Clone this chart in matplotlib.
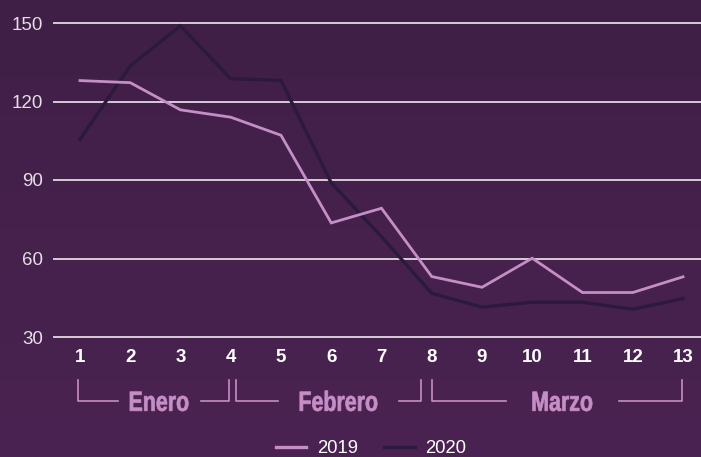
import matplotlib.pyplot as plt
import numpy as np
from matplotlib.colors import LinearSegmentedColormap
from matplotlib.textpath import TextPath
from matplotlib.patches import PathPatch
from matplotlib.font_manager import FontProperties
from matplotlib.transforms import Affine2D, IdentityTransform

weeks = list(range(1, 14))
v2019 = [128, 127.2, 116.8, 114, 107.1, 73.6, 79.2, 53.1, 49, 60.1, 47, 47, 53]
v2020 = [105.5, 133.6, 148.9, 128.7, 128.1, 88.9, 68.3, 46.7, 41.4, 43.3, 43.3, 40.6, 44.7]
yticks = [30, 60, 90, 120, 150]
months = ['Enero', 'Febrero', 'Marzo']
month_spans = [(0.97, 3.97), (4.10, 7.78), (8.0, 12.98)]
month_text = [(1.75, 3.4), (4.94, 7.35), (9.47, 11.73)]  # gap around label

pink = '#c58ec6'
dark = '#2b1a3c'
grid = '#d6ccd6'
DPI = 100

fig = plt.figure(figsize=(7.01, 4.57), dpi=DPI)

# gradient background
bg = fig.add_axes([0, 0, 1, 1], zorder=-10)
cmap = LinearSegmentedColormap.from_list('bg', ['#3f1f46', '#4b2352'])
bg.imshow(np.linspace(0, 1, 256).reshape(-1, 1), aspect='auto', cmap=cmap,
          extent=[0, 1, 0, 1])
bg.axis('off')

ax = fig.add_axes([54 / 701, 1 - 337 / 457, 647 / 701, 314 / 457])
ax.patch.set_alpha(0)
ax.set_xlim(0.483, 13.358)
ax.set_ylim(30, 150)

for y in yticks:
    ax.axhline(y, color=grid, lw=1.4, zorder=1, clip_on=False)

ax.plot(weeks, v2019, color=pink, lw=2.0, label='2019', zorder=3,
        solid_joinstyle='miter')
ax.plot(weeks, v2020, color=dark, lw=2.4, label='2020', zorder=2,
        solid_joinstyle='miter')

for s in ax.spines.values():
    s.set_visible(False)
ax.set_yticks(yticks)
ax.set_yticklabels([str(t) for t in yticks], color='#e6dde6', fontsize=13.5,
                   family='Liberation Sans')
ax.set_xticks(weeks)
ax.set_xticklabels([str(w) for w in weeks], color='white', fontsize=13.5,
                   fontweight='bold', family='Liberation Sans')
ax.tick_params(axis='y', length=0, pad=8)
ax.tick_params(axis='x', length=0, pad=9)

# month brackets
top_y, bot_y = -0.137, -0.2035
fp = FontProperties(family='Liberation Sans', weight='bold')
size_pt = 20
k = DPI / 72
for name, (a, b), (ga, gb) in zip(months, month_spans, month_text):
    kw = dict(transform=ax.get_xaxis_transform(), color=pink, lw=1.2,
              clip_on=False)
    ax.plot([a, a, ga], [top_y, bot_y, bot_y], **kw)
    ax.plot([gb, b, b], [bot_y, bot_y, top_y], **kw)
    # condensed bold label: squeeze a text path horizontally
    tp = TextPath((0, 0), name, size=size_pt, prop=fp)
    ext = tp.get_extents()
    cx = (ext.x0 + ext.x1) / 2
    cap = 0.716 * size_pt
    px, py = ax.get_xaxis_transform().transform(((ga + gb) / 2, bot_y))
    tr = Affine2D().translate(-cx, -cap / 2).scale(0.77 * k, k).translate(px, py)
    fig.patches.append(PathPatch(tr.transform_path(tp), facecolor=pink,
                                 edgecolor=pink, lw=0.5,
                                 transform=IdentityTransform(), figure=fig))

leg = ax.legend(loc='center', bbox_to_anchor=(0.49, -0.356), ncol=2,
                frameon=False, fontsize=13.3, handlelength=1.65,
                columnspacing=1.45, handletextpad=0.55)
for t in leg.get_texts():
    t.set_color('white')
    t.set_family('Liberation Sans')
for h in leg.get_lines():
    h.set_linewidth(2.4)

fig.savefig('out.png', dpi=DPI)
